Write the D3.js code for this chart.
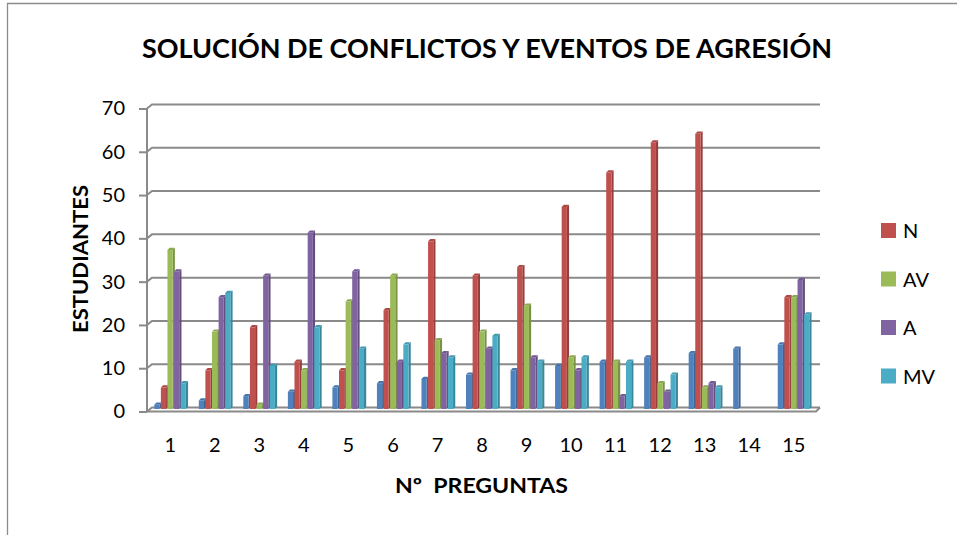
<!DOCTYPE html>
<html>
<head>
<meta charset="utf-8">
<script src="https://cdn.jsdelivr.net/npm/d3@7"></script>
<style>
  body { margin: 0; background: #fff; }
  text { font-family: Lato, "Open Sans", sans-serif; fill: #000; }
</style>
</head>
<body>
<script>
// Define dimensions
var width = 957,
    height = 535;

// Data
var preguntas = ["1","2","3","4","5","6","7","8","9","10","11","12","13","14","15"];
var serie0 = [1,2,3,4,5,6,7,8,9,10,11,12,13,14,15];   // blue, not in legend
var serieN  = [5,9,19,11,9,23,39,31,33,47,55,62,64,0,26];
var serieAV = [37,18,1,9,25,31,16,18,24,12,11,6,5,0,26];
var serieA  = [32,26,31,41,32,11,13,14,12,9,3,4,6,0,30];
var serieMV = [6,27,10,19,14,15,12,17,11,12,11,8,5,0,22];
var seriesNames = ["", "N", "AV", "A", "MV"];
var yTicks = [0,10,20,30,40,50,60,70];

var colors = ["#4F81BD", "#C0504D", "#9BBB59", "#8064A2", "#4BACC6"];
var allSeries = [serie0, serieN, serieAV, serieA, serieMV];

// 3D offset of the back wall
var dx = 5, dy = -4;

var svg = d3.select("body")
    .append("svg")
    .attr("width", width)
    .attr("height", height);

// chart border
svg.append("path")
    .attr("d", "M7.5,535 L7.5,3.5 L957,3.5")
    .attr("fill", "none")
    .attr("stroke", "#8c8c8c")
    .attr("stroke-width", 1.3);

svg.append("text")
    .attr("x", 487)
    .attr("y", 58)
    .attr("text-anchor", "middle")
    .attr("font-size", "26px")
    .attr("font-weight", "bold")
    .attr("textLength", 690)
    .attr("lengthAdjust", "spacingAndGlyphs")
    .text("SOLUCIÓN DE CONFLICTOS Y EVENTOS DE AGRESIÓN");

// back wall scale, and the scale for the bars standing in front of it
var y = d3.scaleLinear().domain([0, 70]).range([407.5, 104.5]);
var yBar = d3.scaleLinear().domain([0, 70]).range([409, 108]);

var x = d3.scaleBand()
    .domain(preguntas)
    .range([148, 816]);

var xInner = d3.scaleBand()
    .domain(d3.range(5))
    .range([-16, 17]);

// gridlines on back wall
svg.append("g").selectAll("path")
    .data(yTicks)
    .enter()
    .append("path")
    .attr("d", d => "M147," + (y(d) - dy) + " L" + (147 + dx) + "," + y(d) + " L820," + y(d))
    .attr("fill", "none")
    .attr("stroke", "#8a8a8a")
    .attr("stroke-width", 2);

// y axis
var yAxis = d3.axisLeft(y.copy().range([407.5 - dy, 104.5 - dy]))
    .tickValues(yTicks)
    .tickSize(8)
    .tickPadding(14);

var gy = svg.append("g")
    .attr("transform", "translate(147,0)")
    .call(yAxis);
gy.select(".domain").attr("stroke", "#8a8a8a").attr("stroke-width", 2)
    .attr("d", "M0," + (104.5 - dy) + "V" + (407.5 - dy));
gy.selectAll(".tick line").attr("stroke", "#8a8a8a").attr("stroke-width", 2);
gy.selectAll(".tick text")
    .attr("font-size", "20px")
    .attr("font-family", "Lato, sans-serif")
    .attr("fill", "#000");

// x labels
svg.append("g").selectAll("text")
    .data(preguntas)
    .enter()
    .append("text")
    .attr("x", d => x(d) + x.bandwidth() / 2)
    .attr("y", 452)
    .attr("text-anchor", "middle")
    .attr("font-size", "20px")
    .text(d => d);

// bars (front face + side + top for 3D look)
var bw = 5.2, depth = 2.2;
var bars = [];
preguntas.forEach(function(p, i) {
    allSeries.forEach(function(s, k) {
        if (s[i] > 0) bars.push({p: p, k: k, v: s[i]});
    });
});

var gb = svg.append("g").selectAll("g")
    .data(bars)
    .enter()
    .append("g")
    .attr("transform", d => "translate(" + (x(d.p) + x.bandwidth() / 2 + xInner(d.k)) + ",0)");

gb.append("path")
    .attr("d", function(d) {
        var t = yBar(d.v), b = yBar(0);
        return "M" + bw + "," + b + " L" + (bw + depth) + "," + (b - depth) +
               " L" + (bw + depth) + "," + (t - depth) + " L" + bw + "," + t + "Z";
    })
    .attr("fill", d => d3.color(colors[d.k]).darker(0.7));

gb.append("path")
    .attr("d", function(d) {
        var t = yBar(d.v);
        return "M0," + t + " L" + depth + "," + (t - depth) + " L" + (bw + depth) + "," + (t - depth) +
               " L" + bw + "," + t + "Z";
    })
    .attr("fill", d => d3.color(colors[d.k]).darker(0.3));

gb.append("rect")
    .attr("x", 0)
    .attr("y", d => yBar(d.v))
    .attr("width", bw)
    .attr("height", d => yBar(0) - yBar(d.v))
    .attr("fill", d => colors[d.k]);

// floor front edge
svg.append("path")
    .attr("d", "M147," + (y(0) - dy) + " L816," + (y(0) - dy) + " L820," + y(0))
    .attr("fill", "none")
    .attr("stroke", "#8a8a8a")
    .attr("stroke-width", 2);

// axis titles
svg.append("text")
    .attr("x", 481.5)
    .attr("y", 493)
    .attr("text-anchor", "middle")
    .attr("font-size", "21px")
    .attr("font-weight", "bold")
    .attr("textLength", 173)
    .attr("lengthAdjust", "spacingAndGlyphs")
    .attr("xml:space", "preserve")
    .text("Nº  PREGUNTAS");

svg.append("text")
    .attr("transform", "translate(88,259) rotate(-90)")
    .attr("text-anchor", "middle")
    .attr("font-size", "21px")
    .attr("font-weight", "bold")
    .attr("textLength", 148)
    .attr("lengthAdjust", "spacingAndGlyphs")
    .text("ESTUDIANTES");

// legend
var legend = svg.append("g").selectAll("g")
    .data(d3.range(1, 5))
    .enter()
    .append("g")
    .attr("transform", (d, i) => "translate(881," + (223 + i * 48.5) + ")");

legend.append("rect")
    .attr("width", 15)
    .attr("height", 15)
    .attr("fill", d => colors[d]);

legend.append("text")
    .attr("x", 22)
    .attr("y", 15)
    .attr("font-size", "20px")
    .text(d => seriesNames[d]);
</script>
</body>
</html>
